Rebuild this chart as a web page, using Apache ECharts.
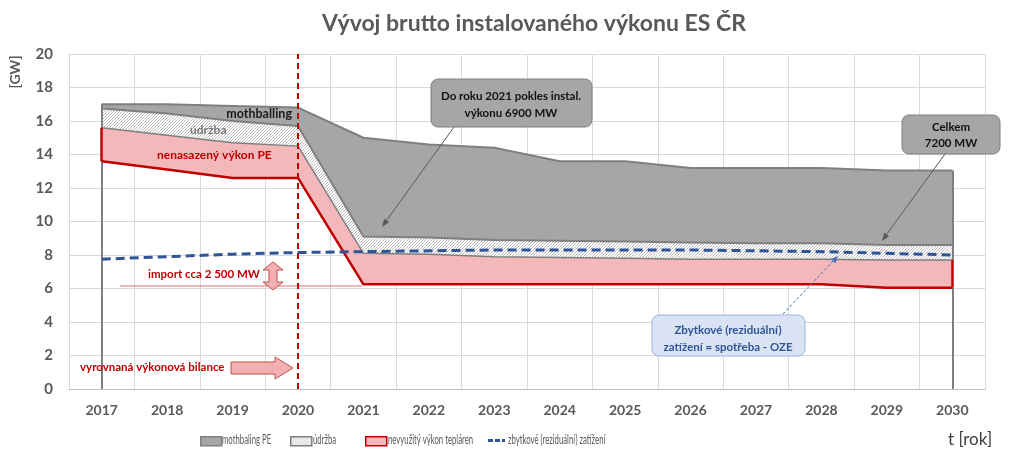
<!DOCTYPE html>
<html><head><meta charset="utf-8">
<script src="https://cdn.jsdelivr.net/npm/echarts@6/dist/echarts.min.js"></script>
<style>html,body{margin:0;padding:0;background:#fff}#c{width:1023px;height:459px}</style>
</head><body><div id="c"></div>
<script>
const years = ['2017','2018','2019','2020','2021','2022','2023','2024','2025','2026','2027','2028','2029','2030'];
const basePE     = [13.6, 13.1, 12.6, 12.6, 6.25, 6.25, 6.25, 6.25, 6.25, 6.25, 6.25, 6.25, 6.05, 6.05];
const nevyuzity  = [2.0, 2.05, 2.1, 1.9, 1.85, 1.8, 1.65, 1.6, 1.55, 1.5, 1.5, 1.5, 1.65, 1.65];
const udrzba     = [1.15, 1.3, 1.3, 1.2, 1.0, 1.0, 1.0, 1.0, 1.0, 1.0, 0.95, 0.95, 0.9, 0.9];
const mothbaling = [0.25, 0.55, 0.9, 1.1, 5.9, 5.55, 5.5, 4.75, 4.8, 4.45, 4.5, 4.5, 4.45, 4.45];
const zbytkove   = [7.75, 7.9, 8.05, 8.15, 8.2, 8.25, 8.3, 8.3, 8.3, 8.3, 8.25, 8.2, 8.1, 8.0];
const markerYear = '2020';
const legendNames = ['mothbaling PE', 'údržba', 'nevyužitý výkon tepláren', 'zbytkové (reziduální) zatížení'];

const FONT = 'Lato, "Open Sans", sans-serif';
const GRAY = '#a6a6a6', GLINE = '#7f7f7f', PINK = '#f4b8ba', RED = '#c00000', BLUE = '#2f5597';

const pc = document.createElement('canvas');
pc.width = 3; pc.height = 3;
const g = pc.getContext('2d');
g.fillStyle = '#ffffff'; g.fillRect(0,0,3,3);
g.strokeStyle = '#b4b4b4'; g.lineWidth = 0.9;
g.beginPath(); g.moveTo(0,3); g.lineTo(3,0); g.moveTo(-1,1); g.lineTo(1,-1); g.moveTo(2,4); g.lineTo(4,2); g.stroke();
const HATCH = {image: pc, repeat: 'repeat'};

const n = years.length;
function edges() {
  const out = [];
  [0, n-1].forEach(i => {
    const c0 = 0, c1 = basePE[i], c2 = c1 + nevyuzity[i], c3 = c2 + udrzba[i], c4 = c3 + mothbaling[i];
    out.push([{coord:[years[i], c0], lineStyle:{color:GLINE,width:2,type:'solid'}}, {coord:[years[i], c1]}]);
    out.push([{coord:[years[i], c2], lineStyle:{color:GLINE,width:2,type:'solid'}}, {coord:[years[i], c4]}]);
    out.push([{coord:[years[i], c1], lineStyle:{color:RED,width:2.5,type:'solid'}}, {coord:[years[i], c2]}]);
  });
  return out;
}

function arrowHead(x1,y1,x2,y2,len,w,color){
  const a = Math.atan2(y2-y1,x2-x1);
  const bx = x2 - len*Math.cos(a), by = y2 - len*Math.sin(a);
  const px = -Math.sin(a)*w, py = Math.cos(a)*w;
  return {type:'polygon', shape:{points:[[x2,y2],[bx+px,by+py],[bx-px,by-py]]}, style:{fill:color}, z:120};
}
function txt(x,y,text,size,color,align,extra){
  return Object.assign({type:'text', x:x, y:y, z:130, style:{text:text, font:'bold '+size+'px '+FONT, fill:color, align:align||'left', verticalAlign:'middle'}}, extra||{});
}
function legTxt(x,text){
  return {type:'text', x:x, y:440, scaleX:0.62, z:130, style:{text:text, font:'12.5px '+FONT, fill:'#595959', align:'left', verticalAlign:'middle'}};
}
const LEG = {top:436, padding:0, itemWidth:21, itemHeight:9, formatter:()=>'', textStyle:{fontSize:1, lineHeight:1}};

const chart = echarts.init(document.getElementById('c'));
chart.setOption({
  animation:false,
  backgroundColor:'#fff',
  title:{text:'Vývoj brutto instalovaného výkonu ES ČR', left:529, textAlign:'center', top:7,
    textStyle:{fontFamily:FONT, fontSize:23, fontWeight:'bold', color:'#595959'}},
  grid:{left:69, right:38, top:54, bottom:70},
  legend:[
    Object.assign({left:200, data:[{name:legendNames[0], icon:'rect', itemStyle:{color:GRAY, borderColor:GLINE, borderWidth:1.5}}]}, LEG),
    Object.assign({left:290, data:[{name:legendNames[1], icon:'rect', itemStyle:{color:HATCH, borderColor:GLINE, borderWidth:1.5}}]}, LEG),
    Object.assign({left:365, data:[{name:legendNames[2], icon:'rect', itemStyle:{color:PINK, borderColor:RED, borderWidth:1.5}}]}, LEG),
    Object.assign({}, LEG, {left:488, top:439, itemWidth:17, itemHeight:3,
      data:[{name:legendNames[3], icon:'path://M0,0h5v3h-5z M7,0h5v3h-5z M14,0h3v3h-3z', itemStyle:{color:BLUE}}]})
  ],
  xAxis:{type:'category', data:years, boundaryGap:true,
    axisLine:{lineStyle:{color:'#bfbfbf', width:1}}, axisTick:{show:false},
    axisLabel:{fontFamily:FONT, fontWeight:'bold', fontSize:14, color:'#595959', margin:14},
    splitLine:{show:true, lineStyle:{color:'#d9d9d9', width:1}}},
  yAxis:{type:'value', min:0, max:20, interval:2,
    axisLine:{show:true, lineStyle:{color:'#d9d9d9'}}, axisTick:{show:false},
    axisLabel:{fontFamily:FONT, fontWeight:'bold', fontSize:15, color:'#595959', margin:16},
    splitLine:{lineStyle:{color:'#d9d9d9', width:1}}},
  series:[
    {name:'base', type:'line', stack:'t', data:basePE, symbol:'none', lineStyle:{color:RED, width:2.5}, z:5},
    {name:legendNames[2], type:'line', stack:'t', data:nevyuzity, symbol:'none',
      lineStyle:{color:GLINE, width:1.5}, itemStyle:{color:PINK}, areaStyle:{color:PINK, opacity:1}, z:3},
    {name:legendNames[1], type:'line', stack:'t', data:udrzba, symbol:'none',
      lineStyle:{color:GLINE, width:2}, itemStyle:{color:GRAY}, areaStyle:{color:HATCH, opacity:1}, z:3},
    {name:legendNames[0], type:'line', stack:'t', data:mothbaling, symbol:'none',
      lineStyle:{color:GLINE, width:2}, itemStyle:{color:GRAY}, areaStyle:{color:GRAY, opacity:1}, z:3,
      markLine:{silent:true, symbol:['none','none'], label:{show:false}, data:edges()}},
    {name:legendNames[3], type:'line', data:zbytkove, symbol:'none',
      lineStyle:{color:BLUE, width:3, type:[9,5]}, itemStyle:{color:BLUE}, z:6,
      markLine:{silent:true, symbol:['none','none'], label:{show:false},
        lineStyle:{color:RED, width:2, type:[6,4]}, data:[{xAxis:markerYear}]}}
  ],
  graphic:[
    {type:'text', x:15, y:72, rotation:Math.PI/2, z:130, style:{text:'[GW]', font:'bold 14px '+FONT, fill:'#595959', align:'center', verticalAlign:'middle'}},
    {type:'text', x:948, y:440, z:130, style:{text:'t [rok]', font:'17px '+FONT, fill:'#404040', align:'left', verticalAlign:'middle'}},
    legTxt(222, legendNames[0]),
    legTxt(313, legendNames[1]),
    legTxt(388, legendNames[2]),
    legTxt(508, legendNames[3]),
    txt(292,114,'mothballing',12.5,'#1a1a1a','right'),
    txt(190,130,'údržba',12,'#7a7a7a','left'),
    txt(157,155,'nenasazený výkon PE',12,RED,'left'),
    {type:'line', shape:{x1:120,y1:286,x2:362,y2:286}, style:{stroke:'#e07070', lineWidth:1}, z:4},
    txt(148,274,'import cca 2 500 MW',11.5,RED,'left'),
    {type:'polygon', shape:{points:[[273,262],[283,270],[277,270],[277,282],[283,282],[273,290],[263,282],[269,282],[269,270],[263,270]]},
      style:{fill:'#f2b0b2', stroke:'#c0504d', lineWidth:1}, z:120},
    txt(80,367,'vyrovnaná výkonová bilance',11.5,RED,'left'),
    {type:'polygon', shape:{points:[[231,362],[275,362],[275,357],[293,368],[275,379],[275,374],[231,374]]},
      style:{fill:'#f2b0b2', stroke:'#c0504d', lineWidth:1}, z:120},
    {type:'line', shape:{x1:454,y1:127,x2:384,y2:224}, style:{stroke:'#595959', lineWidth:1}, z:119},
    arrowHead(454,127,382,227,8,3,'#595959'),
    {type:'rect', shape:{x:431,y:79,width:161,height:48,r:7}, style:{fill:GRAY, stroke:'#7f7f7f', lineWidth:1}, z:120},
    txt(511,96,'Do roku 2021 pokles instal.',11.5,'#111','center'),
    txt(511,113,'výkonu 6900 MW',11.5,'#111','center'),
    {type:'line', shape:{x1:945,y1:154,x2:884,y2:238}, style:{stroke:'#595959', lineWidth:1}, z:119},
    arrowHead(945,154,882,241,8,3,'#595959'),
    {type:'rect', shape:{x:902,y:115,width:98,height:39,r:7}, style:{fill:GRAY, stroke:'#7f7f7f', lineWidth:1}, z:120},
    txt(951,127,'Celkem',11.5,'#111','center'),
    txt(951,143,'7200 MW',11.5,'#111','center'),
    {type:'line', shape:{x1:783,y1:314,x2:835,y2:259}, style:{stroke:'#4a6fb5', lineWidth:1, lineDash:[3,2]}, z:119},
    arrowHead(783,314,838,256,7,3,'#4a6fb5'),
    {type:'rect', shape:{x:652,y:315,width:153,height:41,r:7}, style:{fill:'#dae3f3', stroke:'#9db3dc', lineWidth:1}, z:120},
    txt(728,330,'Zbytkové (reziduální)',11.5,BLUE,'center'),
    txt(728,347,'zatížení = spotřeba - OZE',11.5,BLUE,'center')
  ]
});
</script></body></html>
